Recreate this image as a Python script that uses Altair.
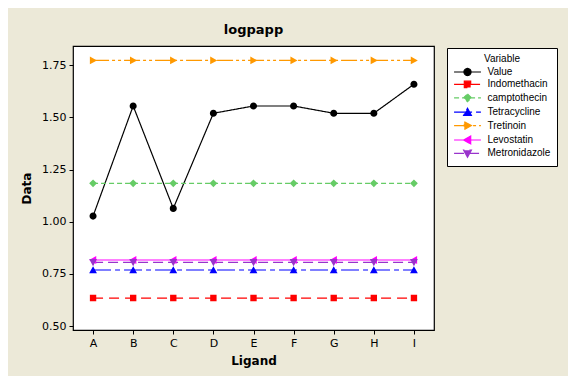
import altair as alt
import pandas as pd

ligands = ["A", "B", "C", "D", "E", "F", "G", "H", "I"]
series_names = ["Value", "Indomethacin", "camptothecin", "Tetracycline",
                "Tretinoin", "Levostatin", "Metronidazole"]
value = [1.027, 1.554, 1.064, 1.519, 1.554, 1.554, 1.519, 1.519, 1.658]
indomethacin = [0.635] * 9
camptothecin = [1.184] * 9
tetracycline = [0.769] * 9
tretinoin = [1.772] * 9
levostatin = [0.817] * 9
metronidazole = [0.806] * 9

colors = ["#000000", "#FF0000", "#66CC66", "#0000FF", "#FF9900", "#FF00FF", "#9933CC"]
# marker outlines plus a horizontal stem (visible only in the legend, where symbols are stroked)
STEM = "M-3.8,0H3.8"
shapes = [
    STEM + "M1,0A1,1 0 1,1 -1,0A1,1 0 1,1 1,0Z",
    STEM + "M-0.9,-0.9H0.9V0.9H-0.9Z",
    STEM + "M0,-1.1L1.1,0L0,1.1L-1.1,0Z",
    STEM + "M0,-1.1L1.1,0.9H-1.1Z",
    STEM + "M-0.9,-1.1L1.1,0L-0.9,1.1Z",
    STEM + "M0.9,-1.1L-1.1,0L0.9,1.1Z",
    STEM + "M0,1.1L1.1,-0.9H-1.1Z",
]
dashes = [[1, 0], [10, 6], [5, 3], [18, 4, 5, 4], [16, 3, 3, 3, 3, 3], [1, 0], [10, 5]]

all_series = [value, indomethacin, camptothecin, tetracycline, tretinoin,
              levostatin, metronidazole]
rows = []
for name, vals in zip(series_names, all_series):
    for lig, v in zip(ligands, vals):
        rows.append({"Ligand": lig, "Variable": name, "Data": v})
df = pd.DataFrame(rows)

FONT = "DejaVu Sans"
LFONT = "Liberation Sans"

x = alt.X("Ligand:N", sort=ligands,
          scale=alt.Scale(type="point", padding=0.5),
          axis=alt.Axis(title="Ligand", labelAngle=0, domain=False, ticks=True,
                        tickSize=4, tickColor="black", labelPadding=3,
                        titlePadding=7, grid=False))
y = alt.Y("Data:Q", scale=alt.Scale(domain=[0.482, 1.841], nice=False, zero=False),
          axis=alt.Axis(title="Data", values=[0.5, 0.75, 1.0, 1.25, 1.5, 1.75],
                        format=".2f", domain=False, tickSize=4, tickColor="black",
                        labelPadding=3, titlePadding=8, grid=False))

legend = alt.Legend(title="Variable",
                    labelExpr="datum.label + '\u00a0\u00a0\u00a0\u00a0\u00a0\u00a0'")
stroke = alt.Stroke("Variable:N", sort=series_names,
                    scale=alt.Scale(domain=series_names, range=colors), legend=legend)
fill = alt.Fill("Variable:N", sort=series_names,
                scale=alt.Scale(domain=series_names, range=colors), legend=legend)
shape = alt.Shape("Variable:N", sort=series_names,
                  scale=alt.Scale(domain=series_names, range=shapes), legend=legend)
dash = alt.StrokeDash("Variable:N", sort=series_names,
                      scale=alt.Scale(domain=series_names, range=dashes), legend=legend)

lines = alt.Chart(df).mark_line(strokeWidth=1.2).encode(
    x=x, y=y, stroke=stroke, strokeDash=dash, detail="Variable:N")
points = alt.Chart(df).mark_point(filled=True, size=50, opacity=1, strokeWidth=0).encode(
    x=x, y=y, fill=fill, shape=shape)

chart = alt.layer(lines, points).properties(
    width=361, height=284,
    title=alt.Title("logpapp", fontSize=13, font=FONT, fontWeight="bold",
                    anchor="middle", offset=9),
    padding={"left": 65, "top": 38, "right": 134, "bottom": 46},
    autosize=alt.AutoSizeParams(type="none"),
    background="#ECE9D8",
).configure_view(
    fill="white", stroke="black", strokeWidth=1.2
).configure_axis(
    labelFont=FONT, titleFont=FONT, labelFontSize=11, titleFontSize=12,
    titleFontWeight="bold", labelColor="black", titleColor="black",
).configure_legend(
    orient="none", legendX=374, legendY=2,
    fillColor="white", strokeColor="black", padding=6,
    labelFont=LFONT, titleFont=LFONT, labelFontSize=10, titleFontSize=10,
    titleFontWeight="normal", titleAnchor="middle", labelColor="black",
    titleColor="black", symbolSize=50, rowPadding=0.4, symbolStrokeWidth=1.2,
    labelOffset=15, symbolOffset=9.5, titlePadding=3,
)

chart.save("out.html", embed_options={"renderer": "svg", "actions": False})
